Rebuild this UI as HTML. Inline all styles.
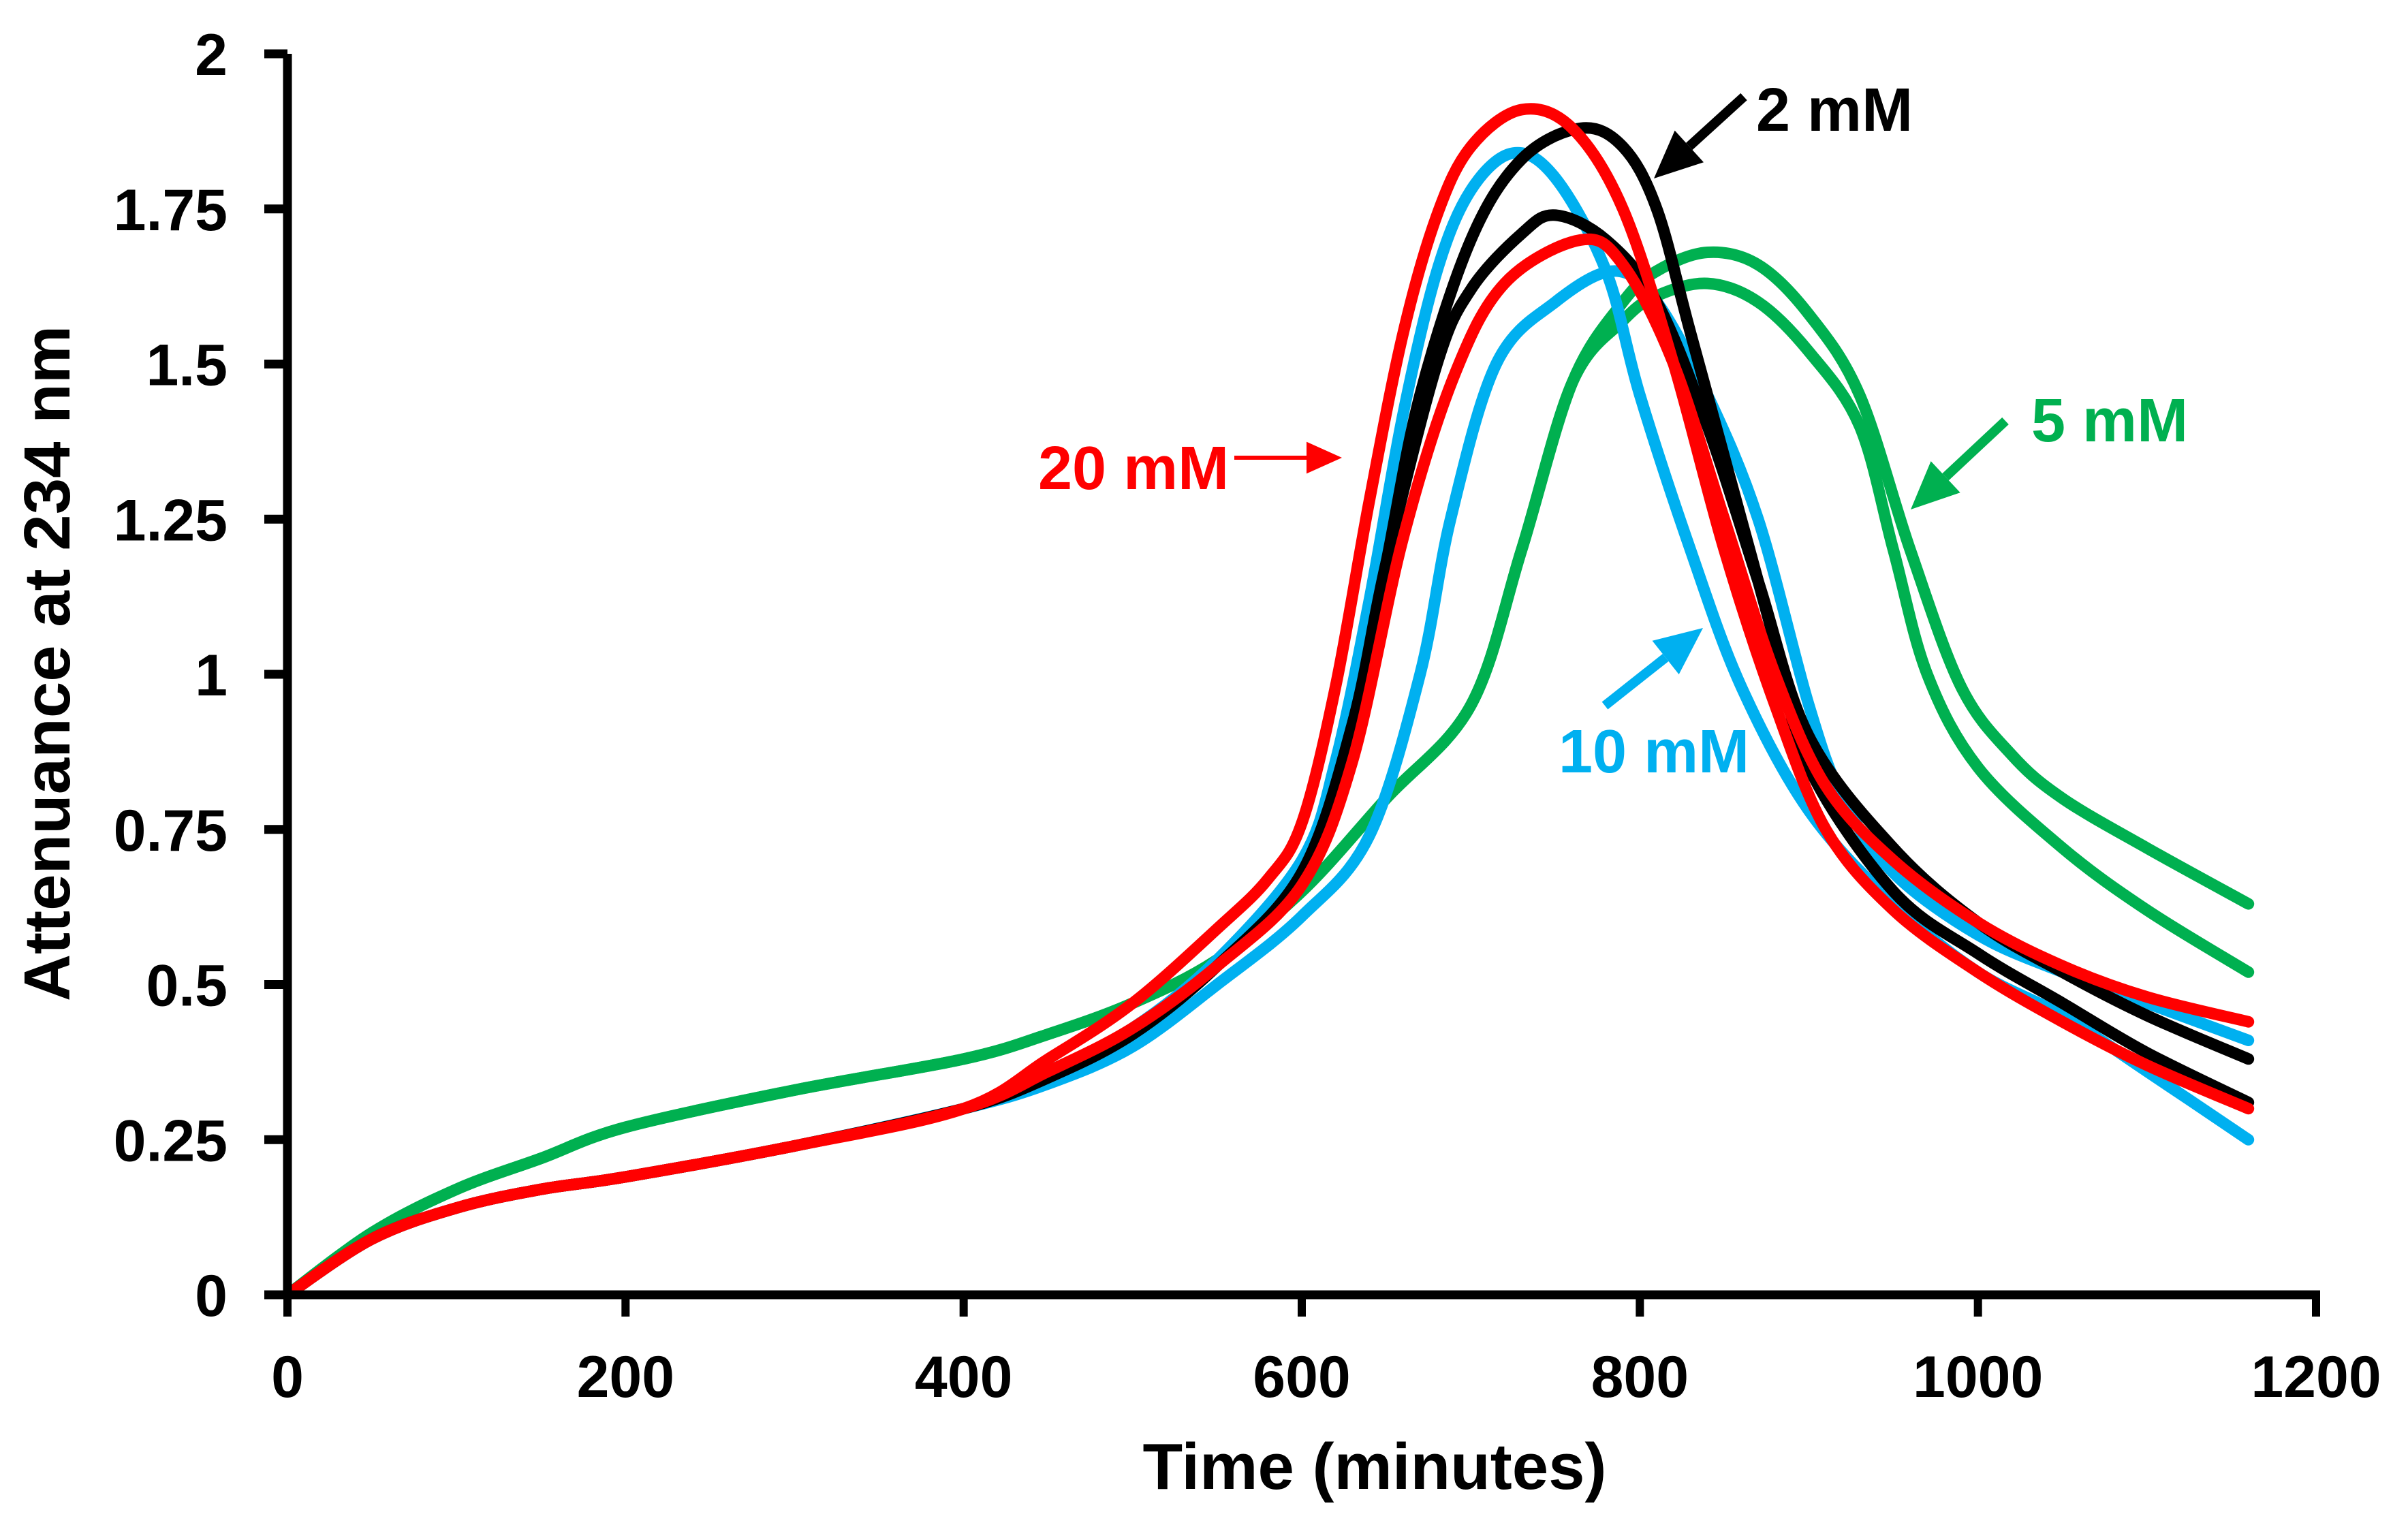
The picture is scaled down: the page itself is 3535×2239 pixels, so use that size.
<!DOCTYPE html>
<html><head><meta charset="utf-8"><style>
html,body{margin:0;padding:0;background:#fff;}
svg{display:block;font-family:"Liberation Sans",Arial,sans-serif;font-weight:bold;}
</style></head><body>
<svg id="chart" width="3535" height="2239" viewBox="0 0 3535 2239" xmlns="http://www.w3.org/2000/svg">
<g id="series"></g>
<g id="axes"></g>
<g id="annot"></g>
</svg>
<script>
const xTicks = [0, 200, 400, 600, 800, 1000, 1200];
const yTicks = [0, 0.25, 0.5, 0.75, 1, 1.25, 1.5, 1.75, 2];
const yTickLabels = ["0", "0.25", "0.5", "0.75", "1", "1.25", "1.5", "1.75", "2"];

const earlyT = [0, 50, 100, 150, 200, 300, 400];
const earlyV = [0, 0.09, 0.14, 0.17, 0.19, 0.24, 0.30];

const greenA_t = [0,50,100,150,200,300,400,450,500,550,600,650,700,730,760,790,810,840,870,900,930,960,990,1020,1050,1100,1160];
const greenA_v = [0,0.10,0.17,0.22,0.27,0.33,0.38,0.42,0.47,0.54,0.65,0.80,0.95,1.2,1.47,1.6,1.65,1.68,1.66,1.58,1.45,1.2,0.98,0.87,0.80,0.72,0.63];
const greenB_t = [0,50,100,150,200,300,400,450,500,550,600,650,700,730,760,790,810,840,870,900,930,950,970,1000,1050,1100,1160];
const greenB_v = [0,0.10,0.17,0.22,0.27,0.33,0.38,0.42,0.47,0.54,0.65,0.80,0.95,1.2,1.47,1.57,1.61,1.63,1.6,1.52,1.4,1.2,1.0,0.85,0.72,0.62,0.52];

const blueA_t = [450,500,550,600,620,640,660,680,700,725,750,780,800,830,860,900,950,1000,1050,1100,1160];
const blueA_v = [0.36,0.43,0.54,0.70,0.86,1.12,1.42,1.65,1.78,1.84,1.8,1.65,1.45,1.2,0.98,0.78,0.63,0.52,0.45,0.36,0.25];
const blueB_t = [450,500,550,600,640,670,688,715,750,785,810,840,870,900,920,950,1000,1050,1100,1160];
const blueB_v = [0.34,0.40,0.50,0.61,0.74,1.0,1.25,1.5,1.6,1.65,1.6,1.45,1.25,0.95,0.80,0.68,0.58,0.52,0.47,0.41];

const blackA_t = [450,500,550,600,630,650,670,700,730,765,790,810,830,860,880,900,950,1000,1050,1100,1160];
const blackA_v = [0.35,0.42,0.53,0.68,0.92,1.18,1.45,1.70,1.83,1.88,1.85,1.75,1.55,1.25,1.05,0.85,0.65,0.55,0.47,0.39,0.31];
const blackB_t = [450,500,550,600,630,650,680,700,730,750,780,810,840,870,900,950,1000,1050,1100,1160];
const blackB_v = [0.35,0.42,0.53,0.68,0.92,1.18,1.5,1.62,1.71,1.74,1.70,1.6,1.4,1.15,0.90,0.72,0.60,0.52,0.45,0.38];

const redA_t = [450,500,550,580,600,620,640,660,680,700,730,760,790,820,850,880,910,950,1000,1050,1100,1160];
const redA_v = [0.38,0.47,0.59,0.67,0.76,0.98,1.28,1.55,1.74,1.85,1.91,1.88,1.75,1.5,1.2,0.95,0.75,0.62,0.52,0.44,0.37,0.30];
const redB_t = [450,500,550,600,630,660,690,720,765,790,820,850,880,910,950,1000,1050,1100,1160];
const redB_v = [0.36,0.43,0.53,0.66,0.86,1.22,1.48,1.63,1.70,1.66,1.5,1.25,1.0,0.82,0.70,0.60,0.53,0.48,0.44];

const X0 = 422, X1 = 3400, Y0 = 1901, Y1 = 79;
function sx(t){ return X0 + (t - 0) / 1200 * (X1 - X0); }
function sy(v){ return Y0 - v / 2 * (Y0 - Y1); }
const NS = "http://www.w3.org/2000/svg";

function withEarly(t, v){
  if (t[0] === 0) return [t, v];
  return [earlyT.concat(t), earlyV.concat(v)];
}
function pathFrom(t, v){
  const p = t.map((ti,i)=>[sx(ti), sy(v[i])]);
  let d = "M" + p[0][0].toFixed(1) + "," + p[0][1].toFixed(1);
  for (let i=0;i<p.length-1;i++){
    const a = p[i-1]||p[i], b=p[i], c=p[i+1], e=p[i+2]||c;
    const c1x=b[0]+(c[0]-a[0])/6, c1y=b[1]+(c[1]-a[1])/6;
    const c2x=c[0]-(e[0]-b[0])/6, c2y=c[1]-(e[1]-b[1])/6;
    d += " C"+c1x.toFixed(1)+","+c1y.toFixed(1)+" "+c2x.toFixed(1)+","+c2y.toFixed(1)+" "+c[0].toFixed(1)+","+c[1].toFixed(1);
  }
  return d;
}
const seriesG = document.getElementById("series");
function addSeries(name, t, v, color){
  const [tt, vv] = withEarly(t, v);
  const el = document.createElementNS(NS, "path");
  el.setAttribute("d", pathFrom(tt, vv));
  el.setAttribute("fill", "none");
  el.setAttribute("stroke", color);
  el.setAttribute("stroke-width", "17");
  el.setAttribute("stroke-linejoin", "round");
  el.setAttribute("stroke-linecap", "round");
  
  
  seriesG.appendChild(el);
}
addSeries("series-5mm-a", greenA_t, greenA_v, "#00b050");
addSeries("series-5mm-b", greenB_t, greenB_v, "#00b050");
addSeries("series-10mm-a", blueA_t, blueA_v, "#00b0f0");
addSeries("series-10mm-b", blueB_t, blueB_v, "#00b0f0");
addSeries("series-2mm-a", blackA_t, blackA_v, "#000000");
addSeries("series-2mm-b", blackB_t, blackB_v, "#000000");
addSeries("series-20mm-a", redA_t, redA_v, "#ff0000");
addSeries("series-20mm-b", redB_t, redB_v, "#ff0000");

const axesG = document.getElementById("axes");
function mk(tag, attrs, parent){
  const el = document.createElementNS(NS, tag);
  for (const k in attrs) el.setAttribute(k, attrs[k]);
  parent.appendChild(el);
  return el;
}
const yAxis = mk("line", {x1:X0, y1:Y1, x2:X0, y2:Y0+6, stroke:"#000", "stroke-width":13}, axesG);


const xAxis = mk("line", {x1:X0-6, y1:Y0, x2:X1+6, y2:Y0, stroke:"#000", "stroke-width":13}, axesG);


xTicks.forEach(t=>{
  const tk = mk("line", {x1:sx(t), y1:Y0, x2:sx(t), y2:Y0+32, stroke:"#000", "stroke-width":12}, axesG);
  
  
  const lb = mk("text", {x:sx(t), y:2051, "text-anchor":"middle", "font-size":86}, axesG);
  lb.textContent = String(t);
  
  
});
yTicks.forEach((v,i)=>{
  const tk = mk("line", {x1:X0-34, y1:sy(v), x2:X0, y2:sy(v), stroke:"#000", "stroke-width":13}, axesG);
  
  
  const lb = mk("text", {x:334, y:sy(v)+31, "text-anchor":"end", "font-size":86}, axesG);
  lb.textContent = yTickLabels[i];
  
  
});
const xt = mk("text", {x:2018, y:2186, "text-anchor":"middle", "font-size":96}, axesG);
xt.textContent = "Time (minutes)";


const yt = mk("text", {x:0, y:0, "text-anchor":"middle", "font-size":96, transform:"translate(102,974) rotate(-90)"}, axesG);
yt.textContent = "Attenuance at 234 nm";



const annG = document.getElementById("annot");
function arrow(name, x1,y1,x2,y2,color,w,head){
  const g = mk("g", {}, annG);
  
  
  const ang = Math.atan2(y2-y1, x2-x1);
  const bx = x2 - head*Math.cos(ang), by = y2 - head*Math.sin(ang);
  mk("line", {x1:x1,y1:y1,x2:bx,y2:by,stroke:color,"stroke-width":w}, g);
  const hw = head*0.45;
  const px = -Math.sin(ang)*hw, py = Math.cos(ang)*hw;
  mk("polygon", {points:`${x2},${y2} ${bx+px},${by+py} ${bx-px},${by-py}`, fill:color}, g);
}
function label(name, x, y, txt, color){
  const t = mk("text", {x:x, y:y, "font-size":90, fill:color}, annG);
  t.textContent = txt;
  
  
}
label("label-2mm", 2578, 192, "2 mM", "#000");
arrow("arrow-2mm", 2560, 142, 2428, 262, "#000", 14, 70);
label("label-5mm", 2982, 648, "5 mM", "#00b050");
arrow("arrow-5mm", 2944, 618, 2805, 748, "#00b050", 14, 70);
label("label-20mm", 1524, 718, "20 mM", "#ff0000");
arrow("arrow-20mm", 1812, 672, 1970, 672, "#ff0000", 6, 52);
label("label-10mm", 2288, 1134, "10 mM", "#00b0f0");
arrow("arrow-10mm", 2356, 1036, 2500, 922, "#00b0f0", 14, 70);
</script>
</body></html>
